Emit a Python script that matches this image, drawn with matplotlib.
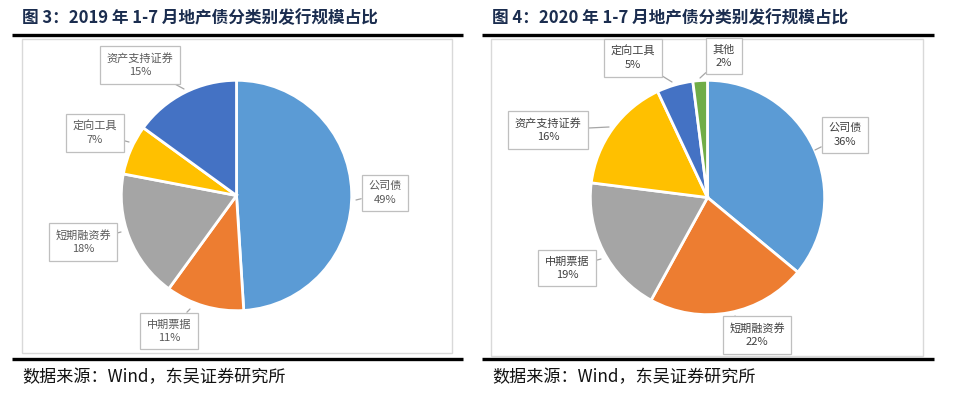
import matplotlib
matplotlib.use("Agg")
import matplotlib.pyplot as plt
from matplotlib.patches import Rectangle

plt.rcParams['font.family'] = ['Noto Sans CJK SC', 'DejaVu Sans']

# ---------------- data ----------------
title_2019 = "图 3：2019 年 1-7 月地产债分类别发行规模占比"
title_2020 = "图 4：2020 年 1-7 月地产债分类别发行规模占比"
source_text = "数据来源：Wind，东吴证券研究所"

cats_2019 = ["公司债", "中期票据", "短期融资券", "定向工具", "资产支持证券"]
vals_2019 = [49, 11, 18, 7, 15]
colors_2019 = ["#5B9BD5", "#ED7D31", "#A5A5A5", "#FFC000", "#4472C4"]

cats_2020 = ["公司债", "短期融资券", "中期票据", "资产支持证券", "定向工具", "其他"]
vals_2020 = [36, 22, 19, 16, 5, 2]
colors_2020 = ["#5B9BD5", "#ED7D31", "#A5A5A5", "#FFC000", "#4472C4", "#70AD47"]

# label box centres and pointer targets (pixels)
lab_2019 = {"公司债": ((385, 193), (356, 200)),
            "中期票据": ((169, 331), (190, 309)),
            "短期融资券": ((83, 242), (121, 232)),
            "定向工具": ((95, 133), (129, 142)),
            "资产支持证券": ((140, 65), (184, 89))}
lab_2020 = {"公司债": ((845, 135), (815, 150)),
            "短期融资券": ((757, 335), (735, 316)),
            "中期票据": ((567, 268), (601, 259)),
            "资产支持证券": ((548, 130), (609, 127)),
            "定向工具": ((633, 58), (672, 82)),
            "其他": ((724, 56), (700, 78))}

W, H = 958, 396
fig = plt.figure(figsize=(W / 100, H / 100), dpi=100)
fig.patch.set_facecolor("white")

bg = fig.add_axes([0, 0, 1, 1])
bg.set_xlim(0, W)
bg.set_ylim(H, 0)
bg.axis("off")

title_color = "#1B2D4F"
for x0, x1, bx0, bx1, bbot, title, tx in [
        (12, 463, 22, 452, 353, title_2019, 22),
        (482, 934, 491, 923, 356, title_2020, 492)]:
    bg.plot([x0, x1], [34.5, 34.5], color="black", lw=2.4, solid_capstyle="butt")
    bg.plot([x0, x1], [359, 359], color="black", lw=2.4, solid_capstyle="butt")
    bg.add_patch(Rectangle((bx0, 39), bx1 - bx0, bbot - 39, fill=False,
                           edgecolor="#D9D9D9", lw=1.0))
    bg.text(tx, 18, title, fontsize=12, fontweight="bold", color=title_color,
            ha="left", va="center")
    bg.text(tx, 377, source_text, fontsize=12.3, color="#111111",
            ha="left", va="center")


def draw_pie(cx, cy, r, vals, colors):
    ax = fig.add_axes([(cx - r) / W, 1 - (cy + r) / H, 2 * r / W, 2 * r / H])
    ax.pie(vals, colors=colors, startangle=90, counterclock=False, radius=1,
           wedgeprops=dict(edgecolor="white", linewidth=2))
    ax.set_xlim(-1.02, 1.02)
    ax.set_ylim(-1.02, 1.02)
    ax.set_aspect("equal")
    ax.axis("off")


draw_pie(236.5, 195.5, 117.5, vals_2019, colors_2019)
draw_pie(707.5, 197.5, 119.5, vals_2020, colors_2020)

top = fig.add_axes([0, 0, 1, 1])
top.set_xlim(0, W)
top.set_ylim(H, 0)
top.axis("off")
top.patch.set_alpha(0)


def draw_labels(cats, vals, labs, color):
    for c, v in zip(cats, vals):
        (x, y), (px, py) = labs[c]
        top.annotate(f"{c}\n{v}%", xy=(px, py), xytext=(x, y),
                     ha="center", va="center", fontsize=8, color=color,
                     linespacing=1.4,
                     bbox=dict(boxstyle="square,pad=0.6", fc="white",
                               ec="#BFBFBF", lw=0.9),
                     arrowprops=dict(arrowstyle="-", color="#A6A6A6", lw=0.9,
                                     shrinkA=0, shrinkB=0))


draw_labels(cats_2019, vals_2019, lab_2019, "#595959")
draw_labels(cats_2020, vals_2020, lab_2020, "#404040")

fig.savefig("out.png", dpi=100, facecolor="white")
